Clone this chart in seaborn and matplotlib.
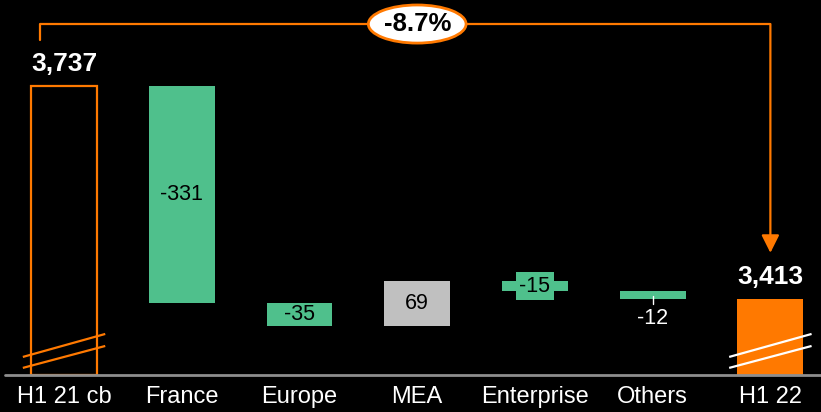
import matplotlib
matplotlib.use("Agg")
import matplotlib.pyplot as plt
from matplotlib.patches import Ellipse
import numpy as np
import seaborn as sns

# data
categories = ["H1 21 cb", "France", "Europe", "MEA", "Enterprise", "Others", "H1 22"]
start_value = 3737
deltas = [-331, -35, 69, -15, -12]
end_value = 3413

orange = "#FF7900"
green = "#4FC08C"
grey = "#C0C0C0"

sns.set_theme(style="dark")
plt.rcParams["font.family"] = ["Liberation Sans", "DejaVu Sans"]
plt.rcParams["axes.facecolor"] = "black"
plt.rcParams["figure.facecolor"] = "black"

# axis is cut: bars for the totals start at the break
y_low, y_high = 3297, 3868

# waterfall positions
running = start_value + np.cumsum([0] + deltas)
tops = [start_value]
bottoms = [y_low]
for i, d in enumerate(deltas):
    a, b = running[i], running[i + 1]
    bottoms.append(min(a, b))
    tops.append(max(a, b))
tops.append(end_value)
bottoms.append(y_low)
heights = [t - b for t, b in zip(tops, bottoms)]

fig = plt.figure(figsize=(8.21, 4.12), dpi=100)
ax = fig.add_axes([0, 1 - 375 / 412, 1, 375 / 412])

sns.barplot(x=categories, y=heights, bottom=bottoms, width=0.56, ax=ax,
            color=green, saturation=1, zorder=2)

colors = ["none", green, green, grey, green, green, orange]
for patch, c in zip(ax.patches, colors):
    patch.set_facecolor(c)
    patch.set_edgecolor(c)
    patch.set_linewidth(0)
ax.patches[0].set_edgecolor(orange)
ax.patches[0].set_linewidth(1.6)

ax.set_xlim(-0.544, 6.43)
ax.set_ylim(y_low, y_high)
ax.set_yticks([])
ax.grid(False)
for s in ax.spines.values():
    s.set_visible(False)
ax.axhline(y_low, xmin=0.006, xmax=1, color="#8E8E8E", lw=2, zorder=5, clip_on=False)
ax.tick_params(axis="x", length=0, pad=8, labelsize=17, labelcolor="white")
ax.set_xlabel("")

# totals
ax.annotate(f"{start_value:,}", (0, start_value), xytext=(0, 16), textcoords="offset points",
            ha="center", va="center", fontsize=19, fontweight="bold", color="white")
ax.annotate(f"{end_value:,}", (6, end_value), xytext=(0, 16), textcoords="offset points",
            ha="center", va="center", fontsize=19, fontweight="bold", color="white")

# delta labels
lab = 15.5
ax.text(1, (tops[1] + bottoms[1]) / 2, f"{deltas[0]}", ha="center", va="center", fontsize=lab, color="black")
ax.text(2, (tops[2] + bottoms[2]) / 2, f"{deltas[1]}", ha="center", va="center", fontsize=lab, color="black")
ax.text(3, (tops[3] + bottoms[3]) / 2, f"{deltas[2]}", ha="center", va="center", fontsize=lab, color="black")
ax.text(4, (tops[4] + bottoms[4]) / 2, f"{deltas[3]}", ha="center", va="center", fontsize=lab, color="black",
        zorder=4, bbox=dict(boxstyle="square,pad=0.15", fc=green, ec="none"))
ax.plot([5, 5], [bottoms[5] + 4, bottoms[5] - 8], color="white", lw=1, zorder=4)
ax.annotate(f"{deltas[4]}", (5, bottoms[5]), xytext=(0, -14), textcoords="offset points",
            ha="center", va="center", fontsize=lab, color="white")

# axis break marks
for x0, c in [(0, orange), (6, "white")]:
    ax.plot([x0 - 0.35, x0 + 0.35], [3324.5, 3359.5], color=c, lw=1.6, zorder=6, solid_capstyle="butt")
    ax.plot([x0 - 0.35, x0 + 0.35], [3307.8, 3341.2], color=c, lw=1.6, zorder=6, solid_capstyle="butt")

# change bracket
bracket_y = 3831.4
ax.plot([-0.204, -0.204, 6], [3807, bracket_y, bracket_y], color=orange, lw=1.6, zorder=3)
ax.annotate("", xy=(6, end_value + 70), xytext=(6, bracket_y),
            arrowprops=dict(arrowstyle="-|>,head_length=0.6,head_width=0.3", mutation_scale=18,
                            color=orange, lw=1.6, shrinkA=0, shrinkB=0), zorder=3)
pct = (end_value - start_value) / start_value * 100
ax.add_patch(Ellipse((3, bracket_y), 0.83, 58, fc="white", ec=orange, lw=2, zorder=4))
ax.text(3, bracket_y, f"{pct:.1f}%", ha="center", va="center", fontsize=18.5, fontweight="bold",
        color="black", zorder=5)

fig.savefig("out.png", dpi=100, facecolor="black")
